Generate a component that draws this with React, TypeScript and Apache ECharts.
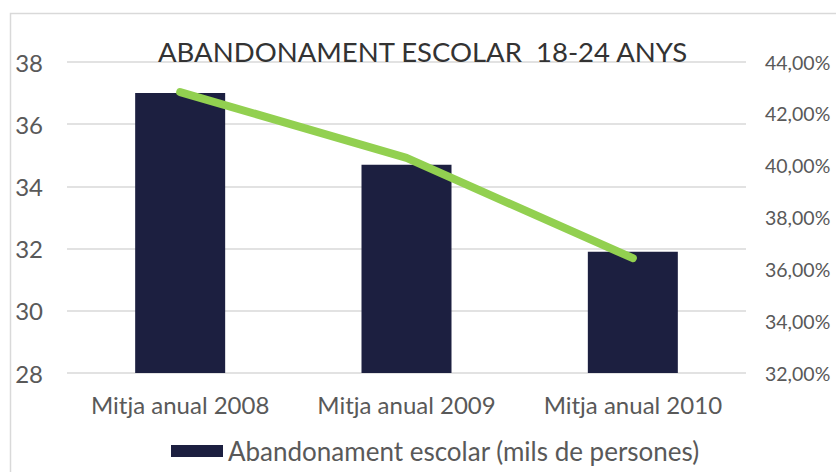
import React, { useEffect, useRef } from "react";
import * as echarts from "echarts";

const categories = ["Mitja anual 2008", "Mitja anual 2009", "Mitja anual 2010"];
const abandonament = [37.0, 34.7, 31.9];
const percentatge = [42.84, 40.3, 36.43];
const barName = "Abandonament escolar (mils de persones)";
const lineName = "Taxa d'abandonament (%)";
const titleText = "ABANDONAMENT ESCOLAR  18-24 ANYS";

const FONT = "Lato, 'Noto Sans', sans-serif";

export default function App() {
  const ref = useRef<HTMLDivElement>(null);
  useEffect(() => {
    document.body.style.margin = "0";
    const chart = echarts.init(ref.current!, null, { renderer: "svg" });
    chart.setOption({
      animation: false,
      backgroundColor: "#ffffff",
      textStyle: { fontFamily: FONT },
      title: {
        text: titleText,
        left: 153,
        top: 32,
        textStyle: { fontFamily: FONT, fontSize: 27.5, fontWeight: "normal", color: "#333333" },
      },
      graphic: [
        {
          type: "rect",
          shape: { x: 10.5, y: 13.5, width: 900, height: 600 },
          style: { fill: "none", stroke: "#d9d9d9", lineWidth: 1.5 },
          z: -1,
        },
      ],
      legend: {
        data: [{ name: barName, icon: "rect" }],
        top: 433,
        left: 166,
        itemWidth: 52,
        itemHeight: 12,
        textStyle: { fontFamily: FONT, fontSize: 26, color: "#595959" },
      },
      grid: { left: 67, right: 90, top: 62, bottom: 99 },
      xAxis: {
        type: "category",
        data: categories,
        axisLine: { show: false },
        axisTick: { show: false },
        axisLabel: { interval: 0, fontFamily: FONT, fontSize: 24, color: "#595959", margin: 19 },
      },
      yAxis: [
        {
          type: "value",
          min: 28,
          max: 38,
          interval: 2,
          axisLabel: { fontFamily: FONT, fontSize: 24, color: "#595959", margin: 24 },
          splitLine: { lineStyle: { color: "#d9d9d9", width: 1.5 } },
        },
        {
          type: "value",
          min: 32,
          max: 44,
          interval: 2,
          position: "right",
          axisLabel: {
            fontFamily: FONT,
            fontSize: 19.5,
            color: "#595959",
            margin: 19,
            formatter: (v: number) => v.toFixed(2).replace(".", ",") + "%",
          },
          splitLine: { show: false },
        },
      ],
      series: [
        {
          name: barName,
          type: "bar",
          data: abandonament,
          barWidth: 90,
          itemStyle: { color: "#1c1f40" },
          yAxisIndex: 0,
        },
        {
          name: lineName,
          type: "line",
          data: percentatge,
          yAxisIndex: 1,
          symbol: "none",
          lineStyle: { color: "#92d050", width: 8, cap: "round", join: "round" },
          itemStyle: { color: "#92d050" },
        },
      ],
    });
    return () => chart.dispose();
  }, []);
  return <div ref={ref} style={{ width: 836, height: 472 }} />;
}
